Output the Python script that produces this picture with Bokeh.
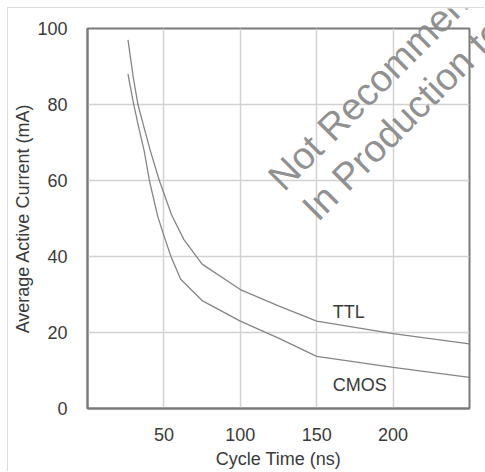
from bokeh.plotting import figure
from bokeh.models import Range1d, FixedTicker, Label
from bokeh.embed import file_html
from bokeh.resources import INLINE
from bokeh.core.properties import value

# ---- data ----
cycle_ttl = [26.5, 30, 33, 37, 41, 47, 55, 63, 75, 100, 125, 150, 200, 250]
current_ttl = [97, 87, 80, 74, 68, 60, 51, 44.5, 38, 31.3, 27, 23, 19.7, 17]

cycle_cmos = [26.5, 30, 33.5, 37, 40.5, 46, 50, 54.6, 61, 75, 100, 125, 150, 200, 250]
current_cmos = [88, 80.5, 74, 68, 60, 50.5, 45.5, 40, 34, 28.4, 23, 18.5, 13.7, 10.8, 8.2]

x_ticks = [50, 100, 150, 200]
y_ticks = [0, 20, 40, 60, 80, 100]

series_names = ["TTL", "CMOS"]
series_label_x = [160.5, 160.5]
series_label_y = [25.5, 6.2]

watermark_lines = ["Not Recommended for New Designs",
                   "In Production to Support Existing Designs"]
watermark_x = [122.6, 144.8]
watermark_y = [59.2, 51.3]

x_title = "Cycle Time (ns)"
y_title = "Average Active Current (mA)"

X_MIN, X_MAX = 0, 250
Y_MIN, Y_MAX = 0, 100

FONT = "Liberation Sans"
TEXT_COLOR = "#3a3a3a"
AXIS_COLOR = "#7a7a7a"

# layout (pixels)
W, H = 477, 464
B_LEFT, B_RIGHT, B_TOP, B_BOTTOM = 79, 16, 20, 64

p = figure(width=W, height=H,
           x_range=Range1d(X_MIN, X_MAX), y_range=Range1d(Y_MIN, Y_MAX),
           output_backend="svg", toolbar_location=None,
           min_border_left=B_LEFT, min_border_right=B_RIGHT,
           min_border_top=B_TOP, min_border_bottom=B_BOTTOM,
           background_fill_color="white", border_fill_color="white")
p.styles = {"margin-left": "7px", "margin-top": "7px",
            "border-left": "1px solid #dcdcdc", "border-top": "1px solid #dcdcdc"}

p.outline_line_color = AXIS_COLOR
p.outline_line_width = 2
p.outline_line_alpha = 1

for ax in (p.xaxis[0], p.yaxis[0]):
    ax.axis_line_color = AXIS_COLOR
    ax.axis_line_width = 2
    ax.major_tick_line_color = None
    ax.minor_tick_line_color = None
    ax.major_tick_out = 0
    ax.major_tick_in = 0
    ax.major_label_text_font = FONT
    ax.major_label_text_font_size = "18px"
    ax.major_label_text_color = TEXT_COLOR
    ax.axis_label_text_font = FONT
    ax.axis_label_text_font_size = "18px"
    ax.axis_label_text_font_style = "normal"
    ax.axis_label_text_color = TEXT_COLOR

p.xaxis[0].ticker = FixedTicker(ticks=x_ticks)
p.yaxis[0].ticker = FixedTicker(ticks=y_ticks)
p.xaxis[0].axis_label = x_title
p.yaxis[0].axis_label = y_title
p.xaxis[0].major_label_standoff = 19
p.xaxis[0].axis_label_standoff = 5
p.yaxis[0].major_label_standoff = 20
p.yaxis[0].axis_label_standoff = 1

p.grid.grid_line_color = "#d2d2d2"
p.grid.grid_line_width = 1.5

p.line(cycle_ttl, current_ttl, line_color="#858585", line_width=1.3)
p.line(cycle_cmos, current_cmos, line_color="#858585", line_width=1.3)

p.text(x=series_label_x, y=series_label_y, text=series_names,
       text_font=value(FONT), text_font_size="18px", text_color=TEXT_COLOR,
       text_align="left", text_baseline="alphabetic")

# ---- transparent overlay figure so the watermark can run past the plot frame ----
fw = W - B_LEFT - B_RIGHT
fh = H - B_TOP - B_BOTTOM
kx = (X_MAX - X_MIN) / fw
ky = (Y_MAX - Y_MIN) / fh
wm = figure(width=W, height=H,
            x_range=Range1d(X_MIN - B_LEFT * kx, X_MAX + B_RIGHT * kx),
            y_range=Range1d(Y_MIN - B_BOTTOM * ky, Y_MAX + B_TOP * ky),
            output_backend="svg", toolbar_location=None,
            x_axis_location=None, y_axis_location=None,
            min_border=0, background_fill_color=None, border_fill_color=None,
            outline_line_color=None)
wm.grid.visible = False
wm.styles = {"position": "absolute", "left": "8px", "top": "8px",
             "pointer-events": "none"}

for t, wx, wy in zip(watermark_lines, watermark_x, watermark_y):
    wm.add_layout(Label(x=wx, y=wy, text=t, angle=45, angle_units="deg",
                        text_font=FONT, text_font_size="38px",
                        text_color="#8a8a8a", text_alpha=0.95,
                        text_align="left", text_baseline="alphabetic"))

open("out.html", "w").write(file_html([p, wm], INLINE))
